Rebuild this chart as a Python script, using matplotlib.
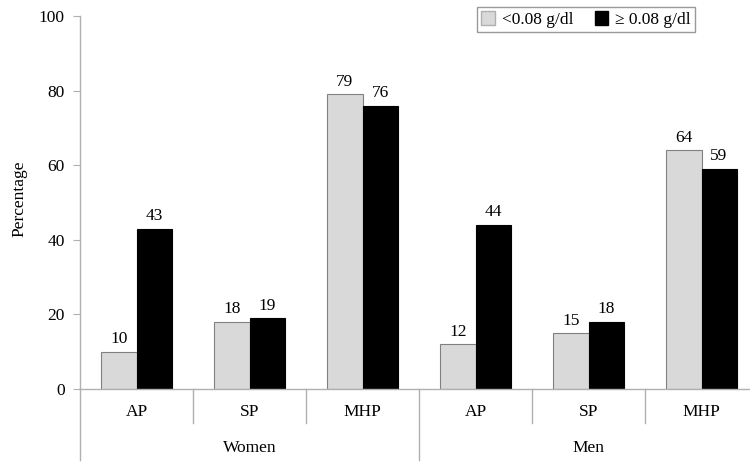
import numpy as np
import matplotlib
matplotlib.use("Agg")
import matplotlib.pyplot as plt
from matplotlib.patches import Patch

plt.rcParams["font.family"] = ["Liberation Serif", "DejaVu Serif"]
plt.rcParams["font.size"] = 12

# data
categories = ["AP", "SP", "MHP", "AP", "SP", "MHP"]
groups = ["Women", "Men"]
low_bac = [10, 18, 79, 12, 15, 64]
high_bac = [43, 19, 76, 44, 18, 59]
series_labels = ["<0.08 g/dl", "\u2265 0.08 g/dl"]

light = "#d9d9d9"
dark = "#000000"
axis_col = "#b0b0b0"

fig = plt.figure(figsize=(7.5, 4.62), dpi=100)
# axes wider than the figure : the x axis runs off the right edge like the original
ax = fig.add_axes([80 / 750, 73 / 462, 678 / 750, 373 / 462])

x = np.arange(len(categories)) + 0.5
w = 0.31
b1 = ax.bar(x - w / 2, low_bac, w, color=light, edgecolor="#808080", linewidth=0.8)
b2 = ax.bar(x + w / 2, high_bac, w, color=dark, edgecolor=dark, linewidth=0.8)

for bars, vals in [(b1, low_bac), (b2, high_bac)]:
    for r, v in zip(bars, vals):
        ax.text(r.get_x() + r.get_width() / 2, v + 1.2, str(v),
                ha="center", va="bottom", fontsize=12.5)

ax.set_xlim(0, 6)
ax.set_ylim(0, 100)
ax.set_yticks(np.arange(0, 101, 20))
ax.tick_params(axis="y", length=5, color=axis_col, pad=6, labelsize=12.5)
ax.set_xticks([])
for s in ["top", "right"]:
    ax.spines[s].set_visible(False)
for s in ["left", "bottom"]:
    ax.spines[s].set_color(axis_col)
    ax.spines[s].set_linewidth(1)
ax.set_ylabel("Percentage", fontsize=12.5)
ax.yaxis.set_label_coords(-0.078, 0.51)

# category labels and separators under the axis
trans = ax.get_xaxis_transform()
for xi, c in zip(x, categories):
    ax.text(xi, -0.062, c, transform=trans, ha="center", va="center", fontsize=12.5)
for xs in [1, 2, 4, 5]:
    ax.plot([xs, xs], [0, -0.092], transform=trans, color=axis_col, lw=1, clip_on=False)
ax.plot([3, 3], [0, -0.19], transform=trans, color=axis_col, lw=1, clip_on=False)
ax.plot([0, 0], [0, -0.19], transform=trans, color=axis_col, lw=1, clip_on=False)
for gi, g in enumerate(groups):
    ax.text(1.5 + 3 * gi, -0.158, g, transform=trans, ha="center", va="center", fontsize=12.5)

handles = [Patch(facecolor=light, edgecolor="#b0b0b0"), Patch(facecolor=dark, edgecolor=dark)]
leg = fig.legend(handles, series_labels, loc="upper left", bbox_to_anchor=(477 / 750, 1 - 7 / 462),
                 ncol=2, frameon=True, fancybox=False, fontsize=12.5, handlelength=0.8,
                 handleheight=0.8, handletextpad=0.4, columnspacing=1.2,
                 borderpad=0.25, borderaxespad=0)
leg.get_frame().set_edgecolor("#808080")
leg.get_frame().set_linewidth(1)

fig.savefig("out.png", dpi=100)
